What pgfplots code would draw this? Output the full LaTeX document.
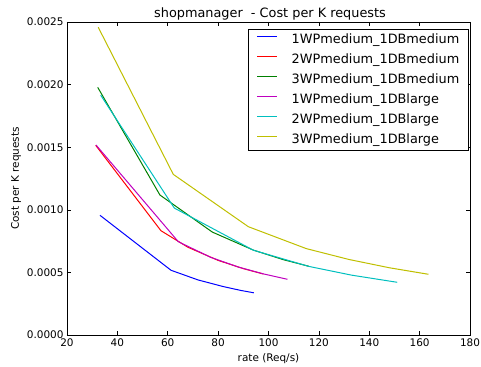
\documentclass[border=0pt]{standalone}
\usepackage{pgfplots}
\pgfplotsset{compat=1.18}
\usepackage{fontspec}
\setmainfont{DejaVu Sans}
\definecolor{mb}{rgb}{0,0,1}
\definecolor{mr}{rgb}{1,0,0}
\definecolor{mg}{rgb}{0,0.5,0}
\definecolor{mm}{rgb}{0.75,0,0.75}
\definecolor{mc}{rgb}{0,0.75,0.75}
\definecolor{my}{rgb}{0.75,0.75,0}
\begin{document}
\begin{tikzpicture}
\begin{axis}[
  at={(0,0)}, anchor=south west,
  scale only axis, width=403bp, height=313bp,
  xmin=20, xmax=180, ymin=0, ymax=0.0025,
  xtick={20,40,...,180},
  ytick={0,0.0005,0.001,0.0015,0.002,0.0025},
  scaled y ticks=false,
  yticklabel style={/pgf/number format/fixed, /pgf/number format/fixed zerofill, /pgf/number format/precision=4},
  /pgf/number format/assume math mode=true,
  tick align=inside, major tick length=4bp,
  tick style={black, line width=0.6pt},
  axis line style={line width=1pt},
  ticklabel style={font=\fontsize{10.5}{12}\selectfont},
  xlabel={rate (Req/s)}, ylabel={Cost per K requests},
  label style={font=\fontsize{10.5}{12}\selectfont},
  xlabel style={at={(rel axis cs:0.5,0)}, anchor=center, yshift=-24bp},
  ylabel style={at={(rel axis cs:0,0.5)}, anchor=center, yshift=51bp},
  every axis title shift=0pt,
  title={shopmanager\ \ - Cost per K requests},
  title style={font=\fontsize{12.9}{15}\selectfont, at={(rel axis cs:0.5,1)}, anchor=base, yshift=4.7bp, xshift=1.5bp},
  every axis plot/.append style={line width=1bp},
  legend cell align=left,
  legend image code/.code={\draw[#1] (0bp,3.6bp) -- (20bp,3.6bp);},
  legend style={at={(rel axis cs:1,1)}, anchor=north east, xshift=-1.5bp, yshift=-7bp,
    font=\fontsize{12.9}{15}\selectfont,
    inner xsep=9bp, inner ysep=4bp, row sep=7bp, column sep=14bp},
  every axis legend/.append style={nodes={inner sep=0pt, text height=10bp, text depth=3bp}},
]
\addplot[color=mb] coordinates {(33.1,0.000956) (61.3,0.000517) (72,0.000440) (82,0.000387) (89,0.000356) (94.2,0.000337)};
\addlegendentry{1WPmedium\_1DBmedium}
\addplot[color=mr] coordinates {(31.4,0.001515) (57.3,0.000833) (68,0.000701) (80,0.000596) (90,0.000530) (98,0.000487)};
\addlegendentry{2WPmedium\_1DBmedium}
\addplot[color=mg] coordinates {(32.2,0.001978) (56.9,0.001118) (77.7,0.000822) (94,0.000678) (106,0.000601) (116,0.000549)};
\addlegendentry{3WPmedium\_1DBmedium}
\addplot[color=mm] coordinates {(31.5,0.001518) (64.2,0.000745) (77,0.000621) (88,0.000543) (98,0.000488) (107.5,0.000445)};
\addlegendentry{1WPmedium\_1DBlarge}
\addplot[color=mc] coordinates {(33.4,0.001915) (62.6,0.001014) (94,0.000677) (116,0.000548) (133,0.000478) (151.1,0.000421)};
\addlegendentry{2WPmedium\_1DBlarge}
\addplot[color=my] coordinates {(32.4,0.002458) (62.2,0.001283) (92,0.000865) (115,0.000690) (132,0.000603) (148,0.000537) (163.5,0.000485)};
\addlegendentry{3WPmedium\_1DBlarge}
\end{axis}
\pgfresetboundingbox
\path[use as bounding box] (-67bp,-32bp) rectangle (414bp,335bp);
\end{tikzpicture}
\end{document}
